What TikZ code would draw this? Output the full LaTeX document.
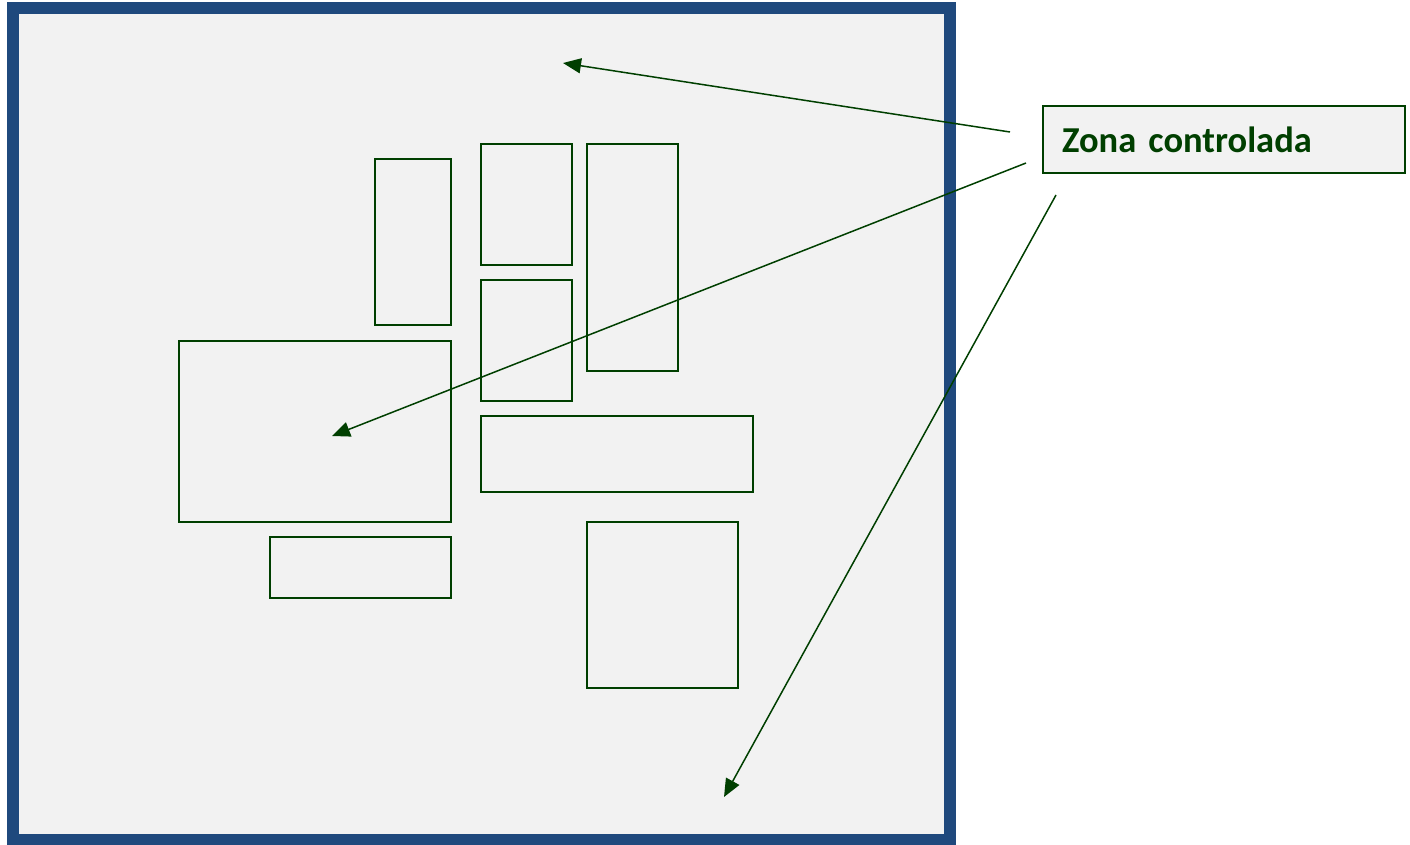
\documentclass[tikz,border=0pt]{standalone}
\usepackage{fontspec}
\setmainfont{Carlito}
\usetikzlibrary{arrows.meta}
\definecolor{zgreen}{HTML}{003F00}
\definecolor{zblue}{HTML}{1F497D}
\definecolor{zfill}{HTML}{F2F2F2}
\begin{document}
\begin{tikzpicture}[x=1pt,y=-1pt,
  zonebox/.style={draw=zgreen,line width=1.5pt},
  ptr/.style={draw=zgreen,line width=1.5pt,-{Triangle[length=18pt,width=15pt]}}]
\useasboundingbox (0,0) rectangle (1410,844);
\draw[draw=zblue,fill=zfill,line width=12pt] (13,8) rectangle (950,840);
\draw[zonebox] (375,159) rectangle (451,325);
\draw[zonebox] (481,144) rectangle (572,265);
\draw[zonebox] (587,144) rectangle (678,371);
\draw[zonebox] (481,280) rectangle (572,401);
\draw[zonebox] (179,341) rectangle (451,522);
\draw[zonebox] (481,416) rectangle (753,492);
\draw[zonebox] (270,537) rectangle (451,598);
\draw[zonebox] (587,522) rectangle (738,688);
\node[draw=zgreen,fill=zfill,line width=1.5pt,minimum width=362pt,minimum height=67pt,
  text width=324pt,inner sep=0pt,align=left,font=\fontsize{36.5}{40}\selectfont\bfseries,text=zgreen]
  (label) at (1224,139.5) {Zona controlada};
\coordinate (sA) at (1010,132);
\coordinate (sB) at (1026,163);
\coordinate (sC) at (1056,195);
\coordinate (tA) at (563,63);
\coordinate (tB) at (332,436);
\coordinate (tC) at (724,797);
\draw[ptr] (sA) -- (tA);
\draw[ptr] (sB) -- (tB);
\draw[ptr] (sC) -- (tC);
\end{tikzpicture}
\end{document}
